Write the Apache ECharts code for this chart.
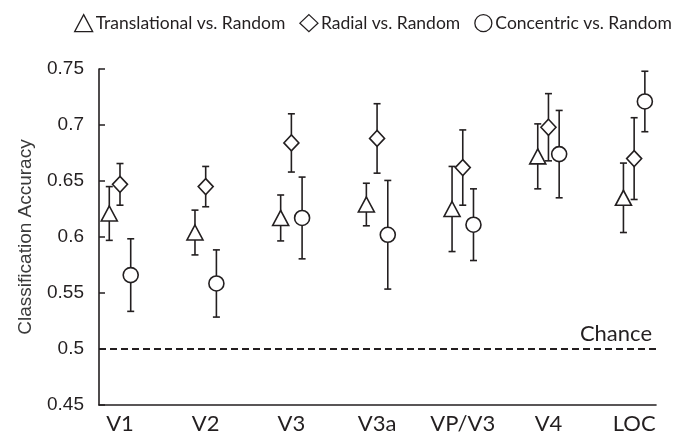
<!DOCTYPE html>
<html>
<head>
<meta charset="utf-8">
<script src="https://cdn.jsdelivr.net/npm/echarts@6/dist/echarts.min.js"></script>
<style>html,body{margin:0;padding:0;background:#fff;}#chart{width:686px;height:436px;}</style>
</head>
<body>
<div id="chart"></div>
<script>
const categories = ['V1', 'V2', 'V3', 'V3a', 'VP/V3', 'V4', 'LOC'];
const yTicks = [0.45, 0.5, 0.55, 0.6, 0.65, 0.7, 0.75];
const chanceLevel = 0.5;

const translational = [0.621, 0.604, 0.617, 0.629, 0.625, 0.672, 0.635];
const translationalErr = [0.024, 0.020, 0.0205, 0.019, 0.038, 0.029, 0.031];
const radial = [0.647, 0.645, 0.684, 0.688, 0.662, 0.698, 0.670];
const radialErr = [0.0186, 0.018, 0.026, 0.031, 0.0336, 0.030, 0.0365];
const concentric = [0.566, 0.5585, 0.617, 0.602, 0.611, 0.674, 0.721];
const concentricErr = [0.0324, 0.030, 0.0365, 0.0485, 0.032, 0.039, 0.027];

const INK = '#231f20';
const seriesDefs = [
  { name: 'Translational vs. Random', vals: translational, errs: translationalErr, offset: -0.125, symbol: 'triangle', size: [16, 15] },
  { name: 'Radial vs. Random', vals: radial, errs: radialErr, offset: 0, symbol: 'diamond', size: [15, 16] },
  { name: 'Concentric vs. Random', vals: concentric, errs: concentricErr, offset: 0.125, symbol: 'circle', size: 15 }
];

const series = [];
seriesDefs.forEach((d, si) => {
  series.push({
    type: 'custom',
    name: d.name + ' err',
    z: 2,
    silent: true,
    data: d.vals.map((v, i) => [i + d.offset, v - d.errs[i], v + d.errs[i]]),
    renderItem: function (params, api) {
      const x = api.value(0);
      const top = api.coord([x, api.value(2)]);
      const bot = api.coord([x, api.value(1)]);
      const hw = 3.5;
      const st = { stroke: INK, lineWidth: 1.6 };
      return {
        type: 'group',
        children: [
          { type: 'line', shape: { x1: top[0], y1: top[1], x2: bot[0], y2: bot[1] }, style: st },
          { type: 'line', shape: { x1: top[0] - hw, y1: top[1], x2: top[0] + hw, y2: top[1] }, style: st },
          { type: 'line', shape: { x1: bot[0] - hw, y1: bot[1], x2: bot[0] + hw, y2: bot[1] }, style: st }
        ]
      };
    }
  });
  const sc = {
    type: 'scatter',
    name: d.name,
    z: 5,
    symbol: d.symbol,
    symbolSize: d.size,
    itemStyle: { color: '#fff', borderColor: INK, borderWidth: 1.6, opacity: 1 },
    data: d.vals.map((v, i) => [i + d.offset, v])
  };
  if (si === 1) {
    sc.markLine = {
      silent: true,
      symbol: 'none',
      data: [{ yAxis: chanceLevel }],
      lineStyle: { type: [7, 4], color: INK, width: 1.8 },
      label: {
        show: true, position: 'insideEndTop', formatter: 'Chance',
        fontFamily: 'Lato', fontSize: 22, color: INK, distance: 4
      }
    };
  }
  series.push(sc);
});

const chart = echarts.init(document.getElementById('chart'), null, { renderer: 'canvas' });
chart.setOption({
  animation: false,
  backgroundColor: '#fff',
  grid: { left: 99, right: 30, top: 69, bottom: 31 },
  legend: {
    data: seriesDefs.map(d => ({ name: d.name, icon: d.symbol })),
    top: 14,
    left: 74,
    width: 612,
    padding: 0,
    itemWidth: 18,
    itemHeight: 17,
    itemGap: 14,
    itemStyle: { color: '#fff', borderColor: INK, borderWidth: 1.3 },
    textStyle: { fontFamily: 'Lato', fontSize: 17.5, color: INK, padding: [0, 0, 0, -2] },
    selectedMode: false
  },
  xAxis: {
    type: 'value',
    min: -0.245,
    max: 6.255,
    axisLine: { show: true, onZero: false, lineStyle: { color: INK, width: 1.6 } },
    axisTick: { show: false },
    splitLine: { show: false },
    axisLabel: {
      customValues: categories.map((c, i) => i),
      formatter: v => categories[Math.round(v)] || '',
      fontFamily: 'Lato', fontSize: 22, color: INK, margin: 8
    }
  },
  yAxis: {
    type: 'value',
    min: yTicks[0],
    max: yTicks[yTicks.length - 1],
    interval: 0.05,
    name: 'Classification Accuracy',
    nameLocation: 'middle',
    nameGap: 64,
    nameTextStyle: { fontFamily: 'Liberation Sans', fontSize: 19, color: '#3a3a3a' },
    axisLine: { show: true, onZero: false, lineStyle: { color: INK, width: 1.6 } },
    axisTick: { show: true, inside: true, length: 6, lineStyle: { color: INK, width: 1.5 } },
    splitLine: { show: false },
    axisLabel: {
      formatter: v => String(parseFloat(v.toFixed(2))),
      fontFamily: 'Liberation Sans', fontSize: 19, color: INK, margin: 15
    }
  },
  series: series
});
</script>
</body>
</html>
